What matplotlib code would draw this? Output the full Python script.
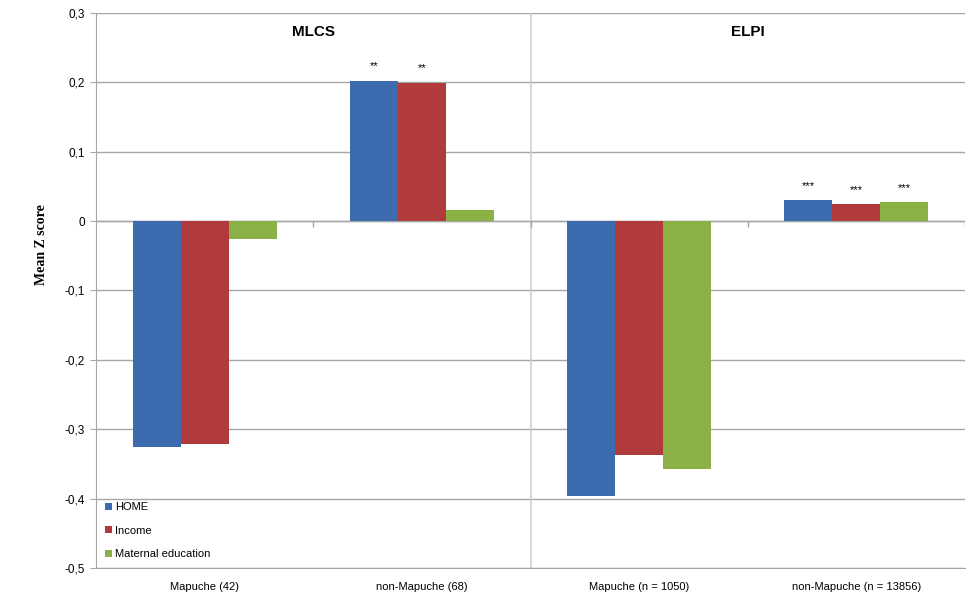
import numpy as np
import matplotlib
matplotlib.use("Agg")
import matplotlib.pyplot as plt
from matplotlib.ticker import FuncFormatter

plt.rcParams['font.family'] = ['Liberation Sans', 'DejaVu Sans']

categories = ['Mapuche (42)', 'non-Mapuche (68)', 'Mapuche (n = 1050)', 'non-Mapuche (n = 13856)']
series = ['HOME', 'Income', 'Maternal education']
home = [-0.326, 0.202, -0.396, 0.030]
income = [-0.321, 0.199, -0.337, 0.024]
maternal = [-0.026, 0.016, -0.357, 0.027]
stars_home = ['', '**', '', '***']
stars_income = ['', '**', '', '***']
stars_maternal = ['', '', '', '***']
panels = ['MLCS', 'ELPI']

colors = ['#3D6BAF', '#B03A3C', '#8BB045']

fig = plt.figure(figsize=(9.76, 5.94), dpi=100)
ax = fig.add_axes([0.0984, 0.0438, 0.8903, 0.9343])

x = np.arange(len(categories))
width = 0.221
values = [home, income, maternal]
stars = [stars_home, stars_income, stars_maternal]

for i, (name, vals, col, st) in enumerate(zip(series, values, colors, stars)):
    pos = x + (i - 1) * width
    ax.bar(pos, vals, width, color=col, label=name, zorder=3)
    for p, v, s in zip(pos, vals, st):
        if s:
            ax.text(p, v + 0.021, s, ha='center', va='center', fontsize=8, zorder=4)

ax.set_xlim(-0.5, 3.5)
ax.set_ylim(-0.5, 0.3)
ax.set_yticks(np.arange(-0.5, 0.31, 0.1))
ax.yaxis.set_major_formatter(FuncFormatter(
    lambda v, _: '0' if abs(v) < 1e-9 else f'{v:.1f}'.replace('.', ',')))
ax.yaxis.grid(True, color='#A6A6A6', linewidth=1, zorder=0)
ax.set_axisbelow(True)

ax.set_xticks(x)
ax.set_xticklabels(categories, fontsize=8)
ax.tick_params(axis='x', length=0, pad=10)
ax.tick_params(axis='y', length=4, color='#A6A6A6', labelsize=8.5, pad=4)

for side in ['top', 'right']:
    ax.spines[side].set_visible(False)
for side in ['left', 'bottom']:
    ax.spines[side].set_color('#A6A6A6')

# zero line and category ticks
ax.axhline(0, color='#A6A6A6', linewidth=1, zorder=2)
ax.vlines(np.arange(0.5, 4, 1), -0.008, 0, color='#A6A6A6', linewidth=1, zorder=2)

# panel separator
ax.axvline(1.5, color='#D0D0D0', linewidth=1.2, zorder=1)

for k, title in enumerate(panels):
    ax.text(0.5 + 2 * k, 0.273, title, ha='center', va='center',
            fontsize=11, fontweight='bold')

ax.set_ylabel('Mean Z score', fontsize=10, fontweight='bold',
              family=['Liberation Serif', 'DejaVu Serif'])
ax.yaxis.set_label_coords(-0.0555, 0.582)

ax.legend(loc='lower left', bbox_to_anchor=(0.0, 0.0), frameon=False,
          fontsize=8, handlelength=0.6, handleheight=0.6, handletextpad=0.3,
          labelspacing=1.2, borderaxespad=0.4)

fig.savefig('out.png', dpi=100)
